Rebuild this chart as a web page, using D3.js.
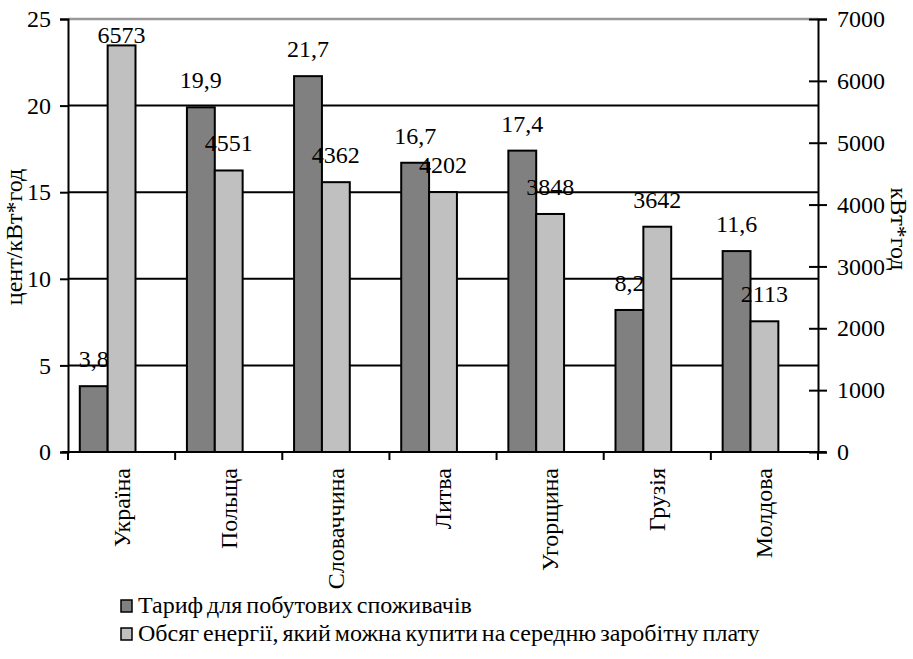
<!DOCTYPE html>
<html><head><meta charset="utf-8">
<script src="https://cdn.jsdelivr.net/npm/d3@7"></script>
</head><body style="margin:0"><svg id="c" width="913" height="659" style="display:block"></svg>
<script>
const categories = ["Україна","Польща","Словаччина","Литва","Угорщина","Грузія","Молдова"];
const tariff = [3.8, 19.9, 21.7, 16.7, 17.4, 8.2, 11.6];
const energy = [6573, 4551, 4362, 4202, 3848, 3642, 2113];
const tariffLabels = ["3,8","19,9","21,7","16,7","17,4","8,2","11,6"];
const leftTicks = [0,5,10,15,20,25];
const rightTicks = [0,1000,2000,3000,4000,5000,6000,7000];
const seriesNames = ["Тариф для побутових споживачів","Обсяг енергії, який можна купити на середню заробітну плату"];
const colors = ["#808080","#c0c0c0"];

const svg = d3.select("#c");
const L=68, R=818, T=19, B=452, FS=24;
const x = d3.scaleBand().domain(categories).range([L,R]).padding(0);
const yL = d3.scaleLinear().domain([0,25]).range([B,T]);
const yR = d3.scaleLinear().domain([0,7000]).range([B,T]);
const bw = x.bandwidth();
const off = bw*0.11, barW = bw*0.26;
const font = sel => sel.attr("font-family","Liberation Serif")
  .attr("style",`font-family:'Liberation Serif' !important;font-size:${FS}px;fill:#000`);

// gridlines
svg.append("g").selectAll("line").data([5,10,15,20]).join("line")
  .attr("x1",L).attr("x2",R).attr("y1",d=>yL(d)).attr("y2",d=>yL(d))
  .attr("stroke","#000").attr("stroke-width",2);
svg.append("line").attr("x1",L).attr("x2",R).attr("y1",yL(25)).attr("y2",yL(25))
  .attr("stroke","#999").attr("stroke-width",2.5);

// bars
const g = svg.append("g");
g.selectAll("rect.t").data(categories).join("rect").attr("class","t")
  .attr("x",d=>x(d)+off).attr("width",barW)
  .attr("y",(d,i)=>yL(tariff[i])).attr("height",(d,i)=>B-yL(tariff[i]))
  .attr("fill",colors[0]).attr("stroke","#000").attr("stroke-width",2);
g.selectAll("rect.e").data(categories).join("rect").attr("class","e")
  .attr("x",d=>x(d)+off+barW).attr("width",barW)
  .attr("y",(d,i)=>yR(energy[i])).attr("height",(d,i)=>B-yR(energy[i]))
  .attr("fill",colors[1]).attr("stroke","#000").attr("stroke-width",2);

// axes
const axL = d3.axisLeft(yL).tickValues(leftTicks).tickSize(8).tickPadding(9).tickFormat(d=>d);
const gL = svg.append("g").attr("transform",`translate(${L},0)`).call(axL);
const axR = d3.axisRight(yR).tickValues(rightTicks).tickSize(9).tickPadding(10).tickFormat(d=>d);
const gR = svg.append("g").attr("transform",`translate(${R},0)`).call(axR);
gR.selectAll(".tick line").attr("x1",-9);
const axB = d3.axisBottom(x).tickSize(8).tickFormat("");
const gB = svg.append("g").attr("transform",`translate(0,${B})`).call(axB);
gB.selectAll(".tick").remove();
gB.selectAll("line.bt").data(d3.range(categories.length+1)).join("line").attr("class","bt")
  .attr("x1",i=>L+i*bw).attr("x2",i=>L+i*bw).attr("y1",0).attr("y2",8)
  .attr("stroke","#000").attr("stroke-width",2);
[gL,gR,gB].forEach(a=>{
  a.attr("font-family","Liberation Serif");
  a.selectAll(".domain").attr("stroke","#000").attr("stroke-width",2);
  a.selectAll(".tick line").attr("stroke","#000").attr("stroke-width",2);
  a.selectAll("text").call(font);
});
gB.select(".domain").attr("d",`M${L-6},0H${R+8}`);

// category labels
svg.append("g").selectAll("text").data(categories).join("text")
  .attr("transform",d=>`translate(${x(d)+bw/2+8},468) rotate(-90)`)
  .attr("text-anchor","end").call(font).text(d=>d);

// value labels
const lab = svg.append("g");
lab.selectAll("text.t").data(categories).join("text").attr("class","t")
  .attr("text-anchor","middle").call(font)
  .attr("x",d=>x(d)+off+barW/2)
  .attr("y",(d,i)=>Math.max(T+24,yL(tariff[i])-19)).text((d,i)=>tariffLabels[i]);
lab.selectAll("text.e").data(categories).join("text").attr("class","e")
  .attr("text-anchor","middle").call(font)
  .attr("x",d=>x(d)+off+barW*1.5)
  .attr("y",(d,i)=>Math.max(T+24,yR(energy[i])-19)).text((d,i)=>energy[i]);

// axis titles
svg.append("text").attr("transform",`translate(22,237) rotate(-90)`).attr("text-anchor","middle")
  .call(font).text("цент/кВт*год");
svg.append("text").attr("transform",`translate(891,229) rotate(90)`).attr("text-anchor","middle")
  .call(font).text("кВт*год");

// legend
const lg = svg.append("g");
seriesNames.forEach((n,i)=>{
  const yy = 606 + i*28;
  lg.append("rect").attr("x",121).attr("y",yy-6).attr("width",11).attr("height",12)
    .attr("fill",colors[i]).attr("stroke","#000").attr("stroke-width",1.5);
  lg.append("text").attr("x",138).attr("y",yy+7).call(font).style("word-spacing","-2px").text(n);
});
</script></body></html>
